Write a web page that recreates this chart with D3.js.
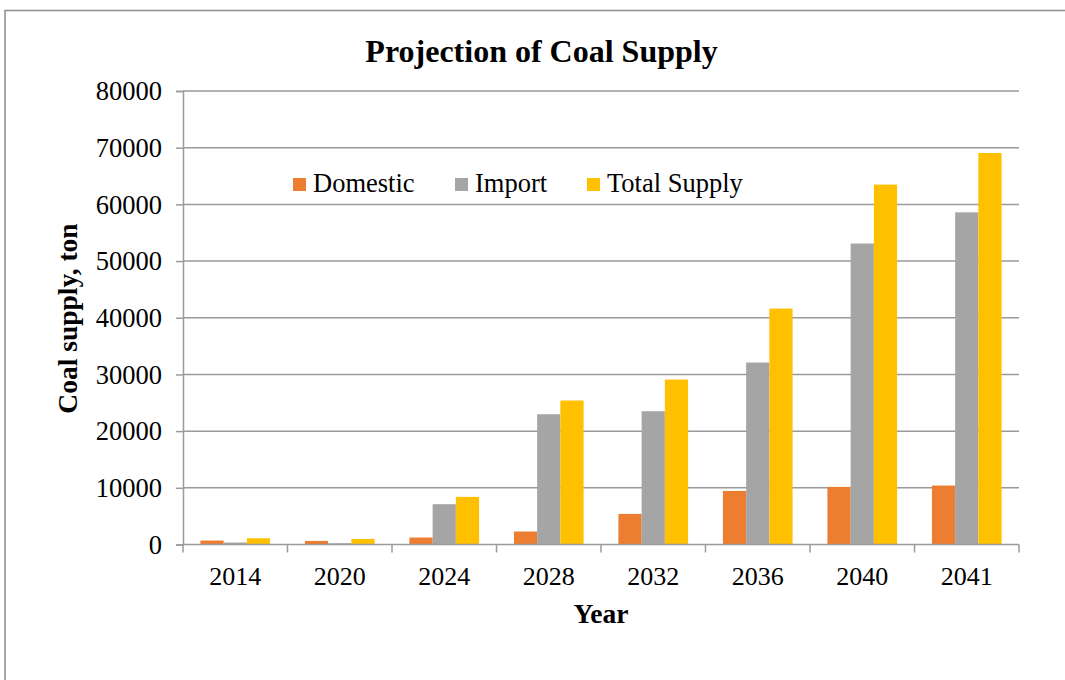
<!DOCTYPE html>
<html>
<head>
<meta charset="utf-8">
<script src="https://cdn.jsdelivr.net/npm/d3@7"></script>
<style>
  html, body { margin: 0; padding: 0; background: #fff; }
  svg { display: block; }
  text { font-family: "Liberation Serif", "Times New Roman", serif; fill: #000; }
</style>
</head>
<body>
<svg id="chart" width="1065" height="680"></svg>
<script>
// Coal supply projection, tons per year
const years = ["2014", "2020", "2024", "2028", "2032", "2036", "2040", "2041"];
const domestic = [700, 630, 1230, 2290, 5400, 9450, 10160, 10400];
const imports = [350, 230, 7110, 22980, 23510, 32100, 53090, 58600];
const totalSupply = [1110, 990, 8400, 25400, 29100, 41620, 63490, 69070];
const seriesNames = ["Domestic", "Import", "Total Supply"];
const seriesColors = ["#ED7D31", "#A5A5A5", "#FFC000"];
const yTicks = [0, 10000, 20000, 30000, 40000, 50000, 60000, 70000, 80000];

const seriesValues = [domestic, imports, totalSupply];
const rows = years.map((yr, i) => ({
  year: yr,
  values: seriesNames.map((name, s) => ({ name, value: seriesValues[s][i] }))
}));

const svg = d3.select("#chart");
const plot = { left: 183, right: 1019, top: 91, bottom: 544.5 };

// chart frame
svg.append("path")
  .attr("d", "M5,680 V10.5 H1065")
  .attr("fill", "none")
  .attr("stroke", "#8c8c8c")
  .attr("stroke-width", 1.5);

const x0 = d3.scaleBand().domain(years).range([plot.left, plot.right]).paddingInner(0).paddingOuter(0);
const x1 = d3.scaleBand().domain(seriesNames).range([0, x0.bandwidth()]).paddingInner(0).paddingOuter(0.75);
const y = d3.scaleLinear().domain([0, 80000]).range([plot.bottom, plot.top]);
const color = d3.scaleOrdinal().domain(seriesNames).range(seriesColors);

// horizontal gridlines
svg.append("g")
  .selectAll("line")
  .data(yTicks.filter(t => t > 0))
  .join("line")
  .attr("x1", plot.left).attr("x2", plot.right)
  .attr("y1", d => y(d)).attr("y2", d => y(d))
  .attr("stroke", "#9a9a9a").attr("stroke-width", 1.5);

// bars
svg.append("g")
  .selectAll("g")
  .data(rows)
  .join("g")
  .attr("transform", d => `translate(${x0(d.year)},0)`)
  .selectAll("rect")
  .data(d => d.values)
  .join("rect")
  .attr("x", d => x1(d.name))
  .attr("width", x1.bandwidth())
  .attr("y", d => y(d.value))
  .attr("height", d => y(0) - y(d.value))
  .attr("fill", d => color(d.name));

// y axis
const yAxis = svg.append("g")
  .attr("transform", `translate(${plot.left},0)`)
  .call(d3.axisLeft(y).tickValues(yTicks).tickFormat(d3.format("d")).tickSize(7).tickPadding(14));
yAxis.select(".domain").attr("stroke", "#9a9a9a").attr("stroke-width", 1.5);
yAxis.selectAll(".tick line").attr("stroke", "#9a9a9a").attr("stroke-width", 1.5);
yAxis.selectAll(".tick text")
  .style("font-family", "'Liberation Serif', 'Times New Roman', serif")
  .style("font-size", "26.5px").attr("fill", "#000").attr("dy", "0.33em");

// x axis: ticks sit on category boundaries
const xAxis = svg.append("g").attr("transform", `translate(0,${plot.bottom})`);
xAxis.append("line")
  .attr("x1", plot.left).attr("x2", plot.right)
  .attr("stroke", "#9a9a9a").attr("stroke-width", 1.5);
const boundaries = years.map(yr => x0(yr)).concat([x0(years[years.length - 1]) + x0.bandwidth()]);
xAxis.selectAll("line.tick")
  .data(boundaries)
  .join("line")
  .attr("class", "tick")
  .attr("x1", d => d).attr("x2", d => d)
  .attr("y1", 0).attr("y2", 8)
  .attr("stroke", "#9a9a9a").attr("stroke-width", 1.5);
xAxis.selectAll("text")
  .data(years)
  .join("text")
  .attr("x", d => x0(d) + x0.bandwidth() / 2)
  .attr("y", 40.5)
  .attr("text-anchor", "middle")
  .style("font-size", "26px")
  .text(d => d);

// titles
svg.append("text")
  .attr("x", 541.5).attr("y", 62)
  .attr("text-anchor", "middle")
  .style("font-size", "32px").style("font-weight", "bold")
  .text("Projection of Coal Supply");

svg.append("text")
  .attr("x", 601).attr("y", 623)
  .attr("text-anchor", "middle")
  .style("font-size", "27.5px").style("font-weight", "bold")
  .text("Year");

svg.append("text")
  .attr("transform", "translate(77,318.5) rotate(-90)")
  .attr("text-anchor", "middle")
  .style("font-size", "27.5px").style("font-weight", "bold")
  .text("Coal supply, ton");

// legend
const legendX = [293, 455, 587];
const legend = svg.append("g")
  .selectAll("g")
  .data(seriesNames)
  .join("g")
  .attr("transform", (d, i) => `translate(${legendX[i]},178)`);
legend.append("rect")
  .attr("width", 13).attr("height", 13)
  .attr("fill", d => color(d));
legend.append("text")
  .attr("x", 20).attr("y", 14)
  .style("font-size", "26.5px")
  .text(d => d);
</script>
</body>
</html>
